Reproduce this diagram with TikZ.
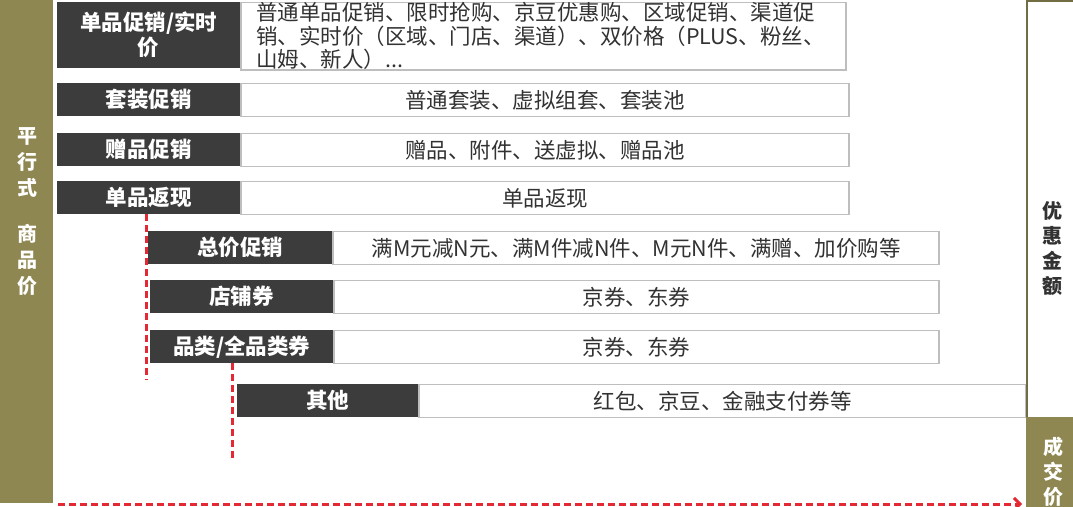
\documentclass[tikz,border=0pt]{standalone}
\usepackage{fontspec}
\setmainfont{Noto Sans CJK SC}
\usetikzlibrary{arrows.meta}
\definecolor{olivebar}{RGB}{143,135,82}
\definecolor{darkbox}{RGB}{60,60,60}
\definecolor{boxline}{RGB}{190,190,190}
\definecolor{textgray}{RGB}{50,50,50}
\definecolor{dashred}{RGB}{228,40,52}

\begin{document}
\begin{tikzpicture}[x=1pt, y=-1pt,
	lab/.style={fill=darkbox, text=white, font=\bfseries\fontsize{21.5}{25}\selectfont, anchor=north west, inner sep=0pt, align=center},
	cont/.style={draw=boxline, line width=1.3pt, fill=white, text=textgray, font=\fontsize{21.5}{23}\selectfont, anchor=north west, inner sep=0pt, align=center},
	reddash/.style={draw=dashred, line width=3pt, dash pattern=on 7pt off 4pt},
	vtext/.style={font=\bfseries\fontsize{20}{26}\selectfont, align=center, inner sep=0pt}]
			\useasboundingbox (0,0) rectangle (1073,506);
			% left bar
			\fill[olivebar] (0,0) rectangle (53,503);
			\node[vtext, text=white] (pingxing) at (27,212) {平\\行\\式\\[20pt]商\\品\\价};
			% parallel rows
			\node[lab, minimum width=183pt, minimum height=66pt] (lab1) at (57,2) {单品促销/实时\\价};
			\node[cont, minimum width=605pt, minimum height=66pt, align=left, text width=575pt, inner xsep=15pt, font=\fontsize{21.5}{23.5}\selectfont, anchor=north west] (txt1) at (lab1.north east) {普通单品促销、限时抢购、京豆优惠购、区域促销、渠道促\\销、实时价（区域、门店、渠道）、双价格（PLUS、粉丝、\\山姆、新人）...};
			\node[lab, minimum width=183pt, minimum height=33pt] (lab2) at (57,83) {套装促销};
			\node[cont, minimum width=608pt, minimum height=33pt] (txt2) at (lab2.north east) {普通套装、虚拟组套、套装池};
			\node[lab, minimum width=183pt, minimum height=33pt] (lab3) at (57,133) {赠品促销};
			\node[cont, minimum width=608pt, minimum height=33pt] (txt3) at (lab3.north east) {赠品、附件、送虚拟、赠品池};
			\node[lab, minimum width=183pt, minimum height=33pt] (lab4) at (57,181) {单品返现};
			\node[cont, minimum width=608pt, minimum height=33pt] (txt4) at (lab4.north east) {单品返现};
			% order level rows
			\node[lab, minimum width=184pt, minimum height=33pt] (lab5) at (148,231) {总价促销};
			\node[cont, minimum width=606pt, minimum height=33pt] (txt5) at (lab5.north east) {满M元减N元、满M件减N件、M元N件、满赠、加价购等};
			\node[lab, minimum width=183pt, minimum height=33pt] (lab6) at (150,280) {店铺券};
			\node[cont, minimum width=605pt, minimum height=33pt] (txt6) at (lab6.north east) {京券、东券};
			\node[lab, minimum width=183pt, minimum height=33pt] (lab7) at (150,330) {品类/全品类券};
			\node[cont, minimum width=605pt, minimum height=33pt] (txt7) at (lab7.north east) {京券、东券};
			\node[lab, minimum width=181pt, minimum height=33pt] (lab8) at (237,384) {其他};
			\node[cont, minimum width=607pt, minimum height=33pt] (txt8) at (lab8.north east) {红包、京豆、金融支付券等};
			% right column
			\node[draw=olivebar!80!black, line width=1.5pt, fill=white, minimum width=52pt, minimum height=417pt, anchor=north west, inner sep=0pt] (youhui) at (1026,0) {};
			\node[vtext, text=textgray, font=\bfseries\fontsize{20}{25}\selectfont] (youhuitxt) at (1052,248) {优\\惠\\金\\额};
			\node[fill=olivebar, minimum width=52pt, minimum height=95pt, anchor=north west, inner sep=0pt] (chengjiao) at (1026,417) {};
			\node[vtext, text=white, font=\bfseries\fontsize{20}{25}\selectfont] (chengjiaotxt) at (1053,472) {成\\交\\价};
			% red dashed guides
			\coordinate (d1a) at (146,214);
			\coordinate (d1b) at (146,380);
			\coordinate (d2a) at (232,363);
			\coordinate (d2b) at (232,458);
			\coordinate (d3a) at (58,504);
			\coordinate (d3b) at (1022,504);
			\draw[reddash] (d1a) -- (d1b);
			\draw[reddash] (d2a) -- (d2b);
			\draw[reddash, -{Straight Barb[length=6pt, width=12pt]}] (d3a) -- (d3b);
		\end{tikzpicture}
\end{document}
